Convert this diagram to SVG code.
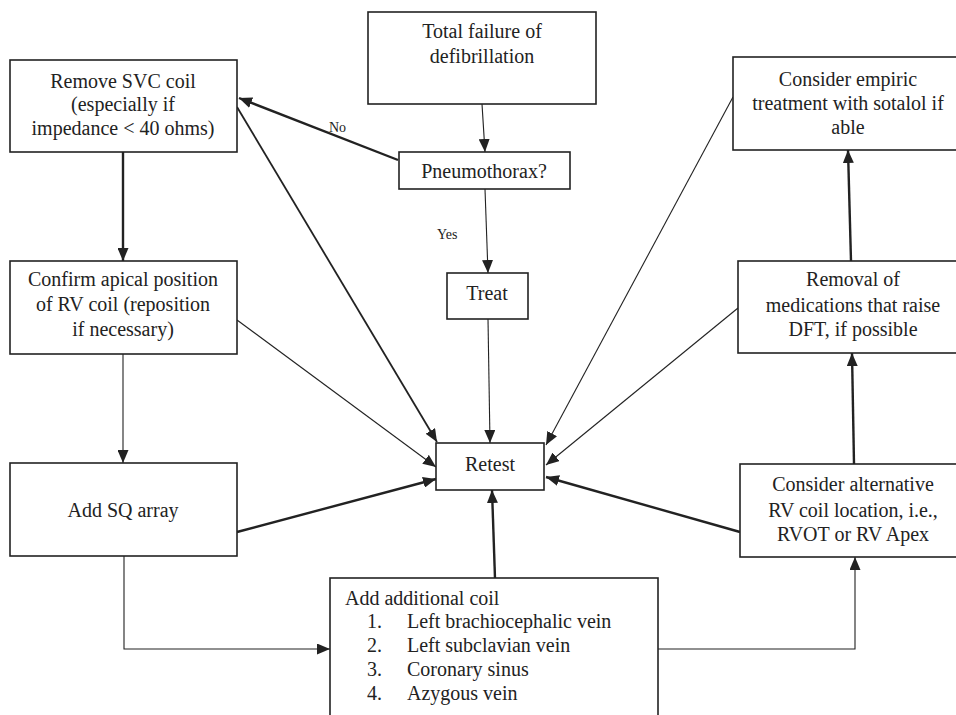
<svg xmlns="http://www.w3.org/2000/svg" width="956" height="715" viewBox="0 0 956 715">
<style>
.box{fill:#fff;stroke:#222;stroke-width:1.6}
.t{font-size:20px;fill:#222;text-anchor:middle}
.tl{font-size:20px;fill:#222}
.lab{font-size:14px;fill:#222}
.thin{fill:none;stroke:#222;stroke-width:1.1}
.thick{fill:none;stroke:#222;stroke-width:2.4}
</style>
<defs>
<marker id="ah" markerUnits="userSpaceOnUse" markerWidth="13" markerHeight="11" refX="13" refY="5.5" orient="auto">
<path d="M0,0 L13,5.5 L0,11 z" fill="#222"/>
</marker>
</defs>
<rect width="956" height="715" fill="#fff"/>
<g font-family="Liberation Serif, Tinos, Noto Serif, DejaVu Serif, Times New Roman, serif">
<g id="connectors">
<path class="thin" d="M482,104 L485,152" marker-end="url(#ah)"/>
<path class="thin" d="M485,189 L488,273" marker-end="url(#ah)"/>
<path class="thin" d="M488,319 L490,443" marker-end="url(#ah)"/>
<path class="thin" d="M237,320 L436,467" marker-end="url(#ah)"/>
<path class="thin" d="M123,354 L123,463" marker-end="url(#ah)"/>
<path class="thin" d="M124,556 L124,649 L330,649" marker-end="url(#ah)"/>
<path class="thin" d="M658,649 L855,649 L855,557" marker-end="url(#ah)"/>
<path class="thin" d="M738,308 L546,465" marker-end="url(#ah)"/>
<path class="thin" d="M733,97 L546,445" marker-end="url(#ah)"/>
<path class="thick" d="M398,160 L239,98" marker-end="url(#ah)"/>
<path class="thick" d="M123,152 L123,261" marker-end="url(#ah)"/>
<path class="thin" style="stroke-width:1.8" d="M237,107 L437,442" marker-end="url(#ah)"/>
<path class="thick" d="M237,532 L436,479" marker-end="url(#ah)"/>
<path class="thick" d="M495,578 L492,490" marker-end="url(#ah)"/>
<path class="thick" d="M740,532 L546,477" marker-end="url(#ah)"/>
<path class="thick" d="M854,464 L852,353" marker-end="url(#ah)"/>
<path class="thick" d="M851,261 L848,150" marker-end="url(#ah)"/>
<text class="lab" x="329" y="132">No</text>
<text class="lab" x="437" y="239">Yes</text>
</g>
<g id="total-failure">
<rect class="box" x="368" y="12" width="228" height="92"/>
<text class="t" x="482" y="38">Total failure of</text>
<text class="t" x="482" y="63">defibrillation</text>
</g>
<g id="remove-svc">
<rect class="box" x="10" y="60" width="227" height="92"/>
<text class="t" x="123" y="88">Remove SVC coil</text>
<text class="t" x="123" y="111">(especially if</text>
<text class="t" x="123" y="135">impedance &lt; 40 ohms)</text>
</g>
<g id="pneumothorax">
<rect class="box" x="399" y="152" width="171" height="37"/>
<text class="t" x="484" y="178">Pneumothorax?</text>
</g>
<g id="treat">
<rect class="box" x="447" y="273" width="81" height="46"/>
<text class="t" x="487" y="300">Treat</text>
</g>
<g id="confirm-apical">
<rect class="box" x="10" y="261" width="227" height="93"/>
<text class="t" x="123" y="286">Confirm apical position</text>
<text class="t" x="123" y="311">of RV coil (reposition</text>
<text class="t" x="123" y="336">if necessary)</text>
</g>
<g id="retest">
<rect class="box" x="436" y="443" width="108" height="47"/>
<text class="t" x="490" y="471">Retest</text>
</g>
<g id="add-sq">
<rect class="box" x="10" y="463" width="227" height="93"/>
<text class="t" x="123" y="517">Add SQ array</text>
</g>
<g id="empiric">
<rect class="box" x="733" y="57" width="230" height="93"/>
<text class="t" x="848" y="86">Consider empiric</text>
<text class="t" x="848" y="110">treatment with sotalol if</text>
<text class="t" x="848" y="134">able</text>
</g>
<g id="removal-meds">
<rect class="box" x="738" y="261" width="225" height="92"/>
<text class="t" x="853" y="286">Removal of</text>
<text class="t" x="853" y="312">medications that raise</text>
<text class="t" x="853" y="336">DFT, if possible</text>
</g>
<g id="alternative-rv">
<rect class="box" x="740" y="464" width="223" height="93"/>
<text class="t" x="853" y="491">Consider alternative</text>
<text class="t" x="853" y="517">RV coil location, i.e.,</text>
<text class="t" x="853" y="541">RVOT or RV Apex</text>
</g>
<g id="additional-coil">
<rect class="box" x="330" y="578" width="328" height="150"/>
<text class="tl" x="345" y="605">Add additional coil</text>
<text class="tl" x="367" y="628">1.</text>
<text class="tl" x="407" y="628">Left brachiocephalic vein</text>
<text class="tl" x="367" y="652">2.</text>
<text class="tl" x="407" y="652">Left subclavian vein</text>
<text class="tl" x="367" y="676">3.</text>
<text class="tl" x="407" y="676">Coronary sinus</text>
<text class="tl" x="367" y="700">4.</text>
<text class="tl" x="407" y="700">Azygous vein</text>
</g>
</g>
</svg>
